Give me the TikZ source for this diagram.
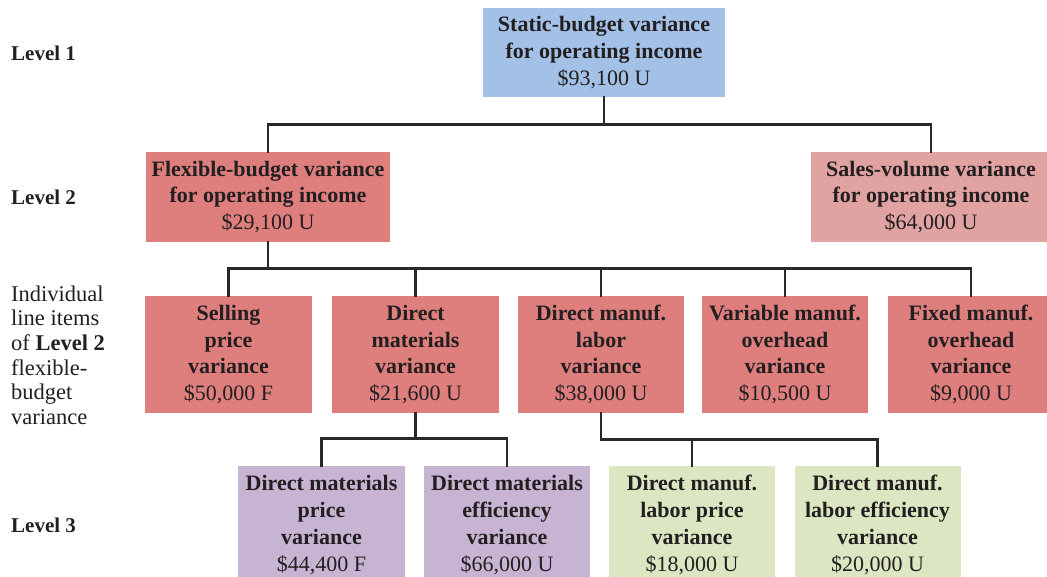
\documentclass[tikz,border=0pt]{standalone}
\usepackage{fontspec}
\setmainfont{Liberation Serif}
\definecolor{cblue}{RGB}{163,193,230}
\definecolor{cred}{RGB}{222,127,126}
\definecolor{cpink}{RGB}{225,163,162}
\definecolor{cpurple}{RGB}{199,180,211}
\definecolor{cgreen}{RGB}{218,231,194}
\definecolor{ctext}{RGB}{35,31,32}
\definecolor{cline}{RGB}{40,40,40}
\begin{document}
\begin{tikzpicture}[x=1pt,y=-1pt,
  box/.style={rectangle,inner sep=0pt,align=center,text=ctext,
    font=\fontsize{22}{26.8}\selectfont},
  conn/.style={draw=cline,line width=2.6pt,line cap=rect},
  lvl/.style={anchor=west,inner sep=0pt,text=ctext,align=left,
    font=\fontsize{21}{24.6}\selectfont},
  lvlsmall/.style={anchor=west,inner sep=0pt,text=ctext,align=left,
    font=\fontsize{22.5}{24.6}\selectfont}]
\useasboundingbox (0,0) rectangle (1047,576);
% Level 1
\node[box,fill=cblue,minimum width=242pt,minimum height=89pt] (top) at (604,52.5)
  {\textbf{Static-budget variance}\\\textbf{for operating income}\\\$93,100 U};
% Level 2
\node[box,fill=cred,minimum width=244pt,minimum height=90pt] (flex) at (268,197)
  {\textbf{Flexible-budget variance}\\\textbf{for operating income}\\\$29,100 U};
\node[box,fill=cpink,minimum width=240pt,minimum height=90pt] (sales) at (931,197)
  {\textbf{Sales-volume variance}\\\textbf{for operating income}\\\$64,000 U};
% line items
\node[box,fill=cred,minimum width=167pt,minimum height=117pt] (sp) at (228.5,354.5)
  {\textbf{Selling}\\\textbf{price}\\\textbf{variance}\\\$50,000 F};
\node[box,fill=cred,minimum width=167pt,minimum height=117pt] (dm) at (415.5,354.5)
  {\textbf{Direct}\\\textbf{materials}\\\textbf{variance}\\\$21,600 U};
\node[box,fill=cred,minimum width=166pt,minimum height=117pt] (dl) at (601,354.5)
  {\textbf{Direct manuf.}\\\textbf{labor}\\\textbf{variance}\\\$38,000 U};
\node[box,fill=cred,minimum width=166pt,minimum height=117pt] (vo) at (785,354.5)
  {\textbf{Variable manuf.}\\\textbf{overhead}\\\textbf{variance}\\\$10,500 U};
\node[box,fill=cred,minimum width=166pt,minimum height=117pt] (fo) at (971,354.5)
  {\textbf{Fixed manuf.}\\\textbf{overhead}\\\textbf{variance}\\\$9,000 U};
% Level 3
\node[box,fill=cpurple,minimum width=167pt,minimum height=118pt] (dmp) at (321.5,525)
  {\textbf{Direct materials}\\\textbf{price}\\\textbf{variance}\\\$44,400 F};
\node[box,fill=cpurple,minimum width=166pt,minimum height=118pt] (dme) at (507,525)
  {\textbf{Direct materials}\\\textbf{efficiency}\\\textbf{variance}\\\$66,000 U};
\node[box,fill=cgreen,minimum width=166pt,minimum height=118pt] (dlp) at (692,525)
  {\textbf{Direct manuf.}\\\textbf{labor price}\\\textbf{variance}\\\$18,000 U};
\node[box,fill=cgreen,minimum width=166pt,minimum height=118pt] (dle) at (877.5,525)
  {\textbf{Direct manuf.}\\\textbf{labor efficiency}\\\textbf{variance}\\\$20,000 U};
% level labels
\node[lvl] (l1) at (11,53) {\textbf{Level 1}};
\node[lvl] (l2) at (11,197) {\textbf{Level 2}};
\node[lvlsmall] (li) at (11,355) {Individual\\line items\\of \textbf{Level 2}\\flexible-\\budget\\variance};
\node[lvl] (l3) at (11,525) {\textbf{Level 3}};
% connectors
\coordinate (j1) at ([yshift=-27pt]top.south);
\draw[conn] (top.south) -- (j1) -| (flex.north);
\draw[conn] (j1) -| (sales.north);
\coordinate (j2) at ([yshift=-26pt]flex.south);
\draw[conn] (flex.south) -- (j2) -| (sp.north);
\draw[conn] (j2) -| (dm.north);
\draw[conn] (j2) -| (dl.north);
\draw[conn] (j2) -| (vo.north);
\draw[conn] (j2) -| (fo.north);
\coordinate (j3) at ([yshift=-25pt]dm.south);
\draw[conn] (dm.south) -- (j3) -| (dmp.north);
\draw[conn] (j3) -| (dme.north);
\coordinate (j4) at ([yshift=-26pt]dl.south);
\draw[conn] (dl.south) -- (j4) -| (dlp.north);
\draw[conn] (j4) -| (dle.north);
\end{tikzpicture}
\end{document}
